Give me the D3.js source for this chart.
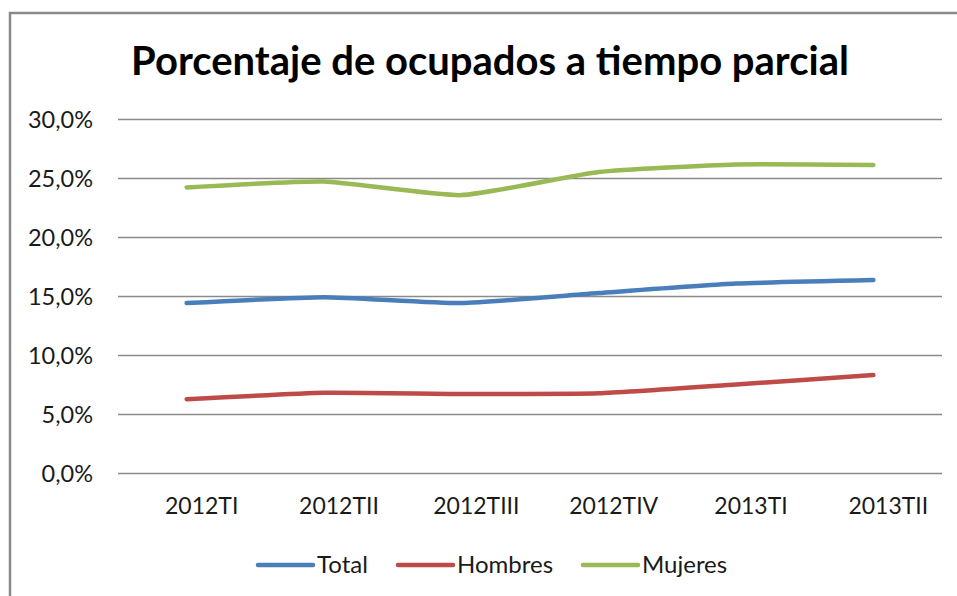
<!DOCTYPE html>
<html>
<head>
<meta charset="utf-8">
<script src="https://cdn.jsdelivr.net/npm/d3@7"></script>
<style>
  body { margin: 0; background: #fff; }
  text { font-family: Lato, "Open Sans", sans-serif; fill: #1a1a1a; }
</style>
</head>
<body>
<div id="chart"></div>
<script>
// Data
const categories = ["2012TI", "2012TII", "2012TIII", "2012TIV", "2013TI", "2013TII"];
const total = [14.4, 14.9, 14.4, 15.25, 16.05, 16.35];
const hombres = [6.25, 6.8, 6.7, 6.75, 7.5, 8.3];
const mujeres = [24.2, 24.7, 23.55, 25.5, 26.15, 26.1];
const yTicks = [0, 5, 10, 15, 20, 25, 30];
const seriesNames = ["Total", "Hombres", "Mujeres"];
const seriesColors = ["#4a7ebb", "#be4b48", "#98b954"];

const W = 957, H = 596;
const margin = { top: 119, right: 15, bottom: 123, left: 118 };
const width = W - margin.left - margin.right;
const height = H - margin.top - margin.bottom;

const svg = d3.select("#chart").append("svg")
    .attr("width", W)
    .attr("height", H);

// chart border
svg.append("rect")
    .attr("x", 10).attr("y", 13)
    .attr("width", W + 10).attr("height", H + 10)
    .attr("fill", "none")
    .attr("stroke", "#8a8a8a")
    .attr("stroke-width", 2.5);

// title
svg.append("text")
    .attr("x", 490)
    .attr("y", 75)
    .attr("text-anchor", "middle")
    .style("font-weight", "bold")
    .style("font-size", "40px")
    .style("fill", "#000")
    .text("Porcentaje de ocupados a tiempo parcial");

const g = svg.append("g")
    .attr("transform", `translate(${margin.left},${margin.top})`);

const x = d3.scaleBand()
    .domain(categories)
    .range([0, width]);

const y = d3.scaleLinear()
    .domain([0, 30])
    .range([height, 0]);

// y axis + gridlines
const yAxis = g.append("g")
    .call(d3.axisLeft(y)
        .tickValues(yTicks)
        .tickSize(-width)
        .tickPadding(25)
        .tickFormat(d => d3.format(".1f")(d).replace(".", ",") + "%"));
yAxis.select(".domain").remove();
yAxis.selectAll(".tick line")
    .attr("stroke", "#8a8a8a")
    .attr("stroke-width", 1.4);
yAxis.selectAll(".tick text")
    .attr("dy", "0.38em")
    .style("font-size", "23.5px")
    .style("font-family", "Lato, sans-serif")
    .style("fill", "#1a1a1a");

// x axis labels
const xAxis = g.append("g")
    .attr("transform", `translate(0,${height})`)
    .call(d3.axisBottom(x).tickSize(0).tickPadding(25));
xAxis.select(".domain").remove();
xAxis.selectAll(".tick text")
    .attr("dx", 15)
    .style("font-size", "23px")
    .style("font-family", "Lato, sans-serif")
    .style("fill", "#1a1a1a");

// lines
const allSeries = [total, hombres, mujeres];
const line = d3.line()
    .x((d, i) => x(categories[i]) + x.bandwidth() / 2)
    .y(d => y(d))
    .curve(d3.curveCardinal.tension(0.5));

allSeries.forEach((values, k) => {
    g.append("path")
        .datum(values)
        .attr("fill", "none")
        .attr("stroke", seriesColors[k])
        .attr("stroke-width", 4.5)
        .attr("stroke-linecap", "round")
        .attr("stroke-linejoin", "round")
        .attr("d", line);
});

// legend
const legendX = [258, 398, 583];
const legend = svg.append("g");
seriesNames.forEach((name, k) => {
    legend.append("line")
        .attr("x1", legendX[k]).attr("x2", legendX[k] + 55)
        .attr("y1", 565).attr("y2", 565)
        .attr("stroke", seriesColors[k])
        .attr("stroke-width", 4.5)
        .attr("stroke-linecap", "round");
    legend.append("text")
        .attr("x", legendX[k] + 59)
        .attr("y", 573)
        .style("font-size", "24px")
        .text(name);
});
</script>
</body>
</html>
